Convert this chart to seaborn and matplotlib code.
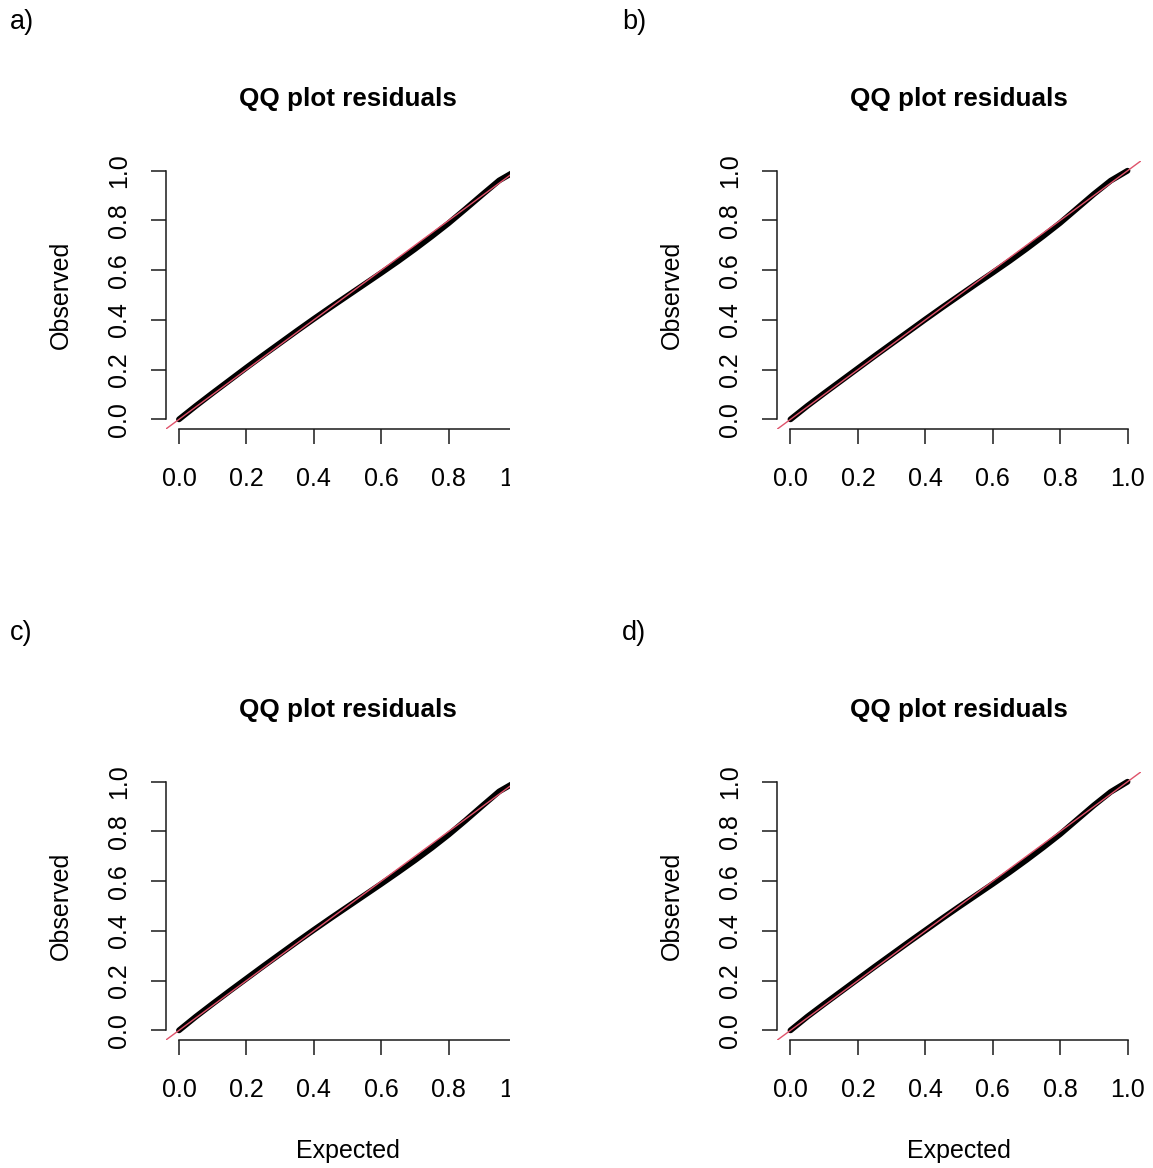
import numpy as np
import pandas as pd
import matplotlib
matplotlib.use("Agg")
import matplotlib.pyplot as plt
from matplotlib.patches import Rectangle
import seaborn as sns

# ---- data ----
expected = [0.00, 0.05, 0.10, 0.15, 0.20, 0.25, 0.30, 0.35, 0.40, 0.45, 0.50,
            0.55, 0.60, 0.65, 0.70, 0.75, 0.80, 0.85, 0.90, 0.95, 1.00]
observed_a = [0.000, 0.054, 0.106, 0.157, 0.208, 0.258, 0.307, 0.356, 0.404, 0.451, 0.497,
              0.543, 0.589, 0.636, 0.685, 0.736, 0.789, 0.846, 0.904, 0.961, 1.000]
observed_b = [0.000, 0.054, 0.105, 0.155, 0.205, 0.255, 0.304, 0.353, 0.402, 0.450, 0.497,
              0.544, 0.590, 0.637, 0.686, 0.737, 0.790, 0.848, 0.906, 0.960, 1.000]
observed_c = [0.000, 0.055, 0.107, 0.158, 0.208, 0.258, 0.307, 0.356, 0.404, 0.451, 0.497,
              0.543, 0.589, 0.636, 0.684, 0.734, 0.787, 0.844, 0.903, 0.961, 1.000]
observed_d = [0.000, 0.055, 0.106, 0.156, 0.206, 0.256, 0.305, 0.354, 0.402, 0.450, 0.497,
              0.543, 0.589, 0.636, 0.685, 0.736, 0.789, 0.847, 0.905, 0.959, 1.000]
panel_labels = ["a)", "b)", "c)", "d)"]
tick_values = [0.0, 0.2, 0.4, 0.6, 0.8, 1.0]
tick_labels = ["0.0", "0.2", "0.4", "0.6", "0.8", "1.0"]
title_text = "QQ plot residuals"
xlabel_text = "Expected"
ylabel_text = "Observed"

sns.set_theme(style="white")
plt.rcParams["font.family"] = ["Liberation Sans", "DejaVu Sans"]
plt.rcParams["text.color"] = "black"

W, H = 1153, 1168
fig = plt.figure(figsize=(W / 100, H / 100), dpi=100)

# plot regions in pixels: (left, top, right, bottom)
regions = [
    (165.5, 160.8, 529.5, 429.3),
    (777.0, 160.8, 1141.0, 429.3),
    (165.5, 771.8, 529.5, 1040.3),
    (777.0, 771.8, 1141.0, 1040.3),
]
series = [observed_a, observed_b, observed_c, observed_d]
red = "#DF536B"
axcol = "#1a1a1a"

for i, ((l, t, r, b), obs) in enumerate(zip(regions, series)):
    ax = fig.add_axes([l / W, 1 - b / H, (r - l) / W, (b - t) / H])
    df = pd.DataFrame({"Expected": expected, "Observed": obs})
    sns.lineplot(data=df, x="Expected", y="Observed", ax=ax, color="black",
                 linewidth=4.2, solid_capstyle="round", zorder=2)
    ax.axline((0, 0), slope=1, color=red, linewidth=1.0, zorder=3)
    ax.set_xlim(-0.04, 1.04)
    ax.set_ylim(-0.04, 1.04)
    for s in ["top", "right"]:
        ax.spines[s].set_visible(False)
    for s in ["left", "bottom"]:
        ax.spines[s].set_visible(True)
        ax.spines[s].set_color(axcol)
        ax.spines[s].set_linewidth(1.1)
    ax.spines["left"].set_bounds(0, 1)
    ax.spines["bottom"].set_bounds(0, 1)
    ax.set_xticks(tick_values)
    ax.set_xticklabels(tick_labels)
    ax.set_yticks(tick_values)
    ax.set_yticklabels(tick_labels, rotation=90, va="center")
    ax.tick_params(axis="both", direction="out", length=11, width=1.1,
                   color=axcol, labelsize=18, labelcolor="black",
                   bottom=True, left=True)
    ax.tick_params(axis="x", pad=16)
    ax.tick_params(axis="y", pad=14)
    ax.set_xlabel("")
    ax.set_ylabel("")
    ax.grid(False)
    ax.set_facecolor("none")

    cx = (l + r) / 2
    cy = (t + b) / 2
    fig.text(cx / W, 1 - (t - 62) / H, title_text, ha="center", va="center",
             fontsize=18.7, fontweight="bold", color="black")
    fig.text((l - 105) / W, 1 - cy / H, ylabel_text, ha="center", va="center",
             rotation=90, fontsize=18, color="black")
    if i >= 2:
        fig.text(cx / W, 1 - (b + 111) / H, xlabel_text, ha="center", va="center",
                 fontsize=18, color="black")
    col = i % 2
    row = i // 2
    fig.text((10 + 612 * col) / W, 1 - (22 + 611 * row) / H, panel_labels[i],
             ha="left", va="center", fontsize=19.5, color="black")

# left column images are cropped on the right in the reference
fig.add_artist(Rectangle((510 / W, 0), (611 - 510) / W, 1, transform=fig.transFigure,
                         facecolor="white", edgecolor="none", zorder=10))

fig.savefig("out.png", dpi=100, facecolor="white")
